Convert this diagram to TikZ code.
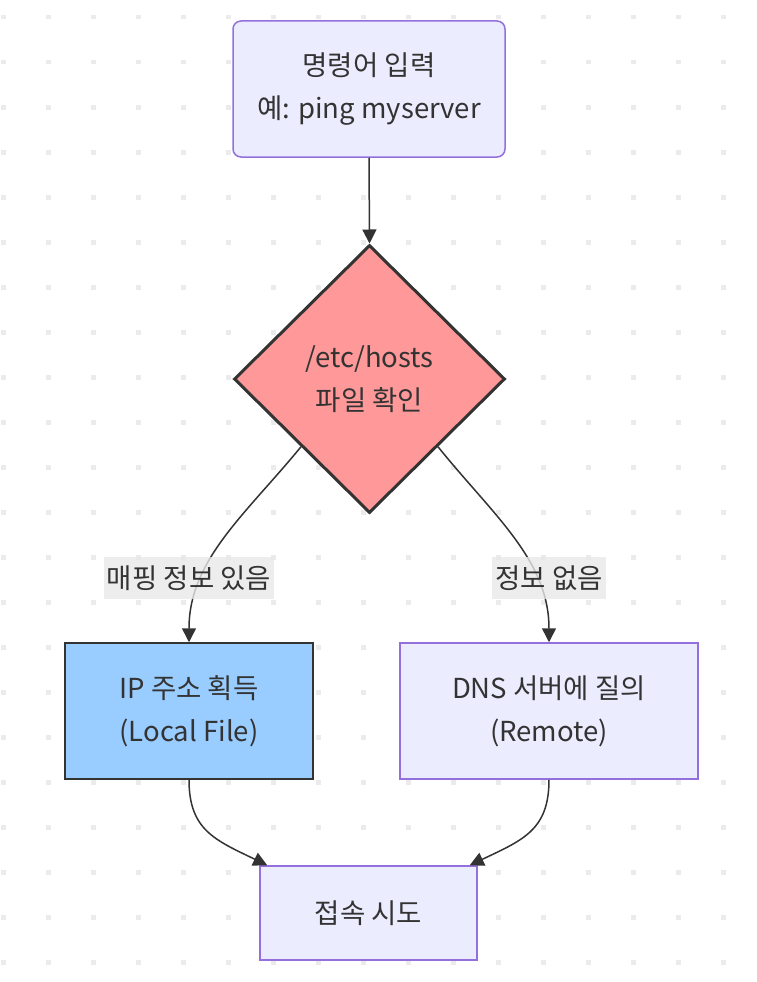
\documentclass[tikz,border=0pt]{standalone}
\usepackage{fontspec}
\setmainfont{Noto Sans CJK KR}
\usetikzlibrary{arrows.meta, shapes.geometric}
\definecolor{BoxFill}{HTML}{ECECFF}
\definecolor{BoxLine}{HTML}{9370DB}
\definecolor{CheckFill}{HTML}{FF9999}
\definecolor{LocalFill}{HTML}{99CCFF}
\definecolor{InkGray}{HTML}{333333}
\definecolor{DotGray}{HTML}{EBEBEB}
\definecolor{LabelGray}{HTML}{E8E8E8}

\begin{document}
\begin{tikzpicture}[x=1pt, y=-1pt,
  txt/.style={text=InkGray, font=\fontsize{27.5}{43}\selectfont, align=center, inner sep=0pt},
  box/.style={txt, draw=BoxLine, fill=BoxFill, line width=1.5pt},
  darkbox/.style={txt, draw=InkGray, fill=LocalFill, line width=1.5pt},
  edgelabel/.style={txt, fill=LabelGray, fill opacity=0.8, text opacity=1, inner xsep=3pt, minimum height=42pt},
  link/.style={draw=InkGray, line width=1.5pt, -{Triangle[length=14pt, width=14pt]}}]
  \useasboundingbox (0,0) rectangle (756,982);
  \foreach \i in {0,...,16}
    \foreach \j in {0,...,21}
      \fill[DotGray] (1+45*\i, 15+45*\j) rectangle ++(4.5,4.5);

  \node[box, rounded corners=8pt, minimum width=272pt, minimum height=136pt] (input) at (369,89) {명령어 입력\\예: ping myserver};
  \node[txt, shape=diamond, draw=InkGray, fill=CheckFill, line width=3pt, minimum width=271pt, minimum height=268pt] (check) at (369.5,379) {/etc/hosts\\파일 확인};
  \node[darkbox, minimum width=248pt, minimum height=136pt] (local) at (189,711) {IP 주소 획득\\(Local File)};
  \node[box, minimum width=298pt, minimum height=136pt] (dns) at (549,711) {DNS 서버에 질의\\(Remote)};
  \node[box, minimum width=217pt, minimum height=94pt] (connect) at (368.5,913) {접속 시도};

  \draw[link] (input.south) -- (check.north);
  \draw[link] (check.south west) .. controls (245,515) and (189,560) .. (local.north);
  \draw[link] (check.south east) .. controls (493,515) and (549,560) .. (dns.north);
  \draw[link] (local.south) .. controls (189,830) and (215,840) .. ([xshift=8pt]connect.north west);
  \draw[link] (dns.south) .. controls (549,830) and (523,840) .. ([xshift=-8pt]connect.north east);

  \node[edgelabel] (yes) at (189,578) {매핑 정보 있음};
  \node[edgelabel] (no) at (549,578) {정보 없음};
\end{tikzpicture}
\end{document}
